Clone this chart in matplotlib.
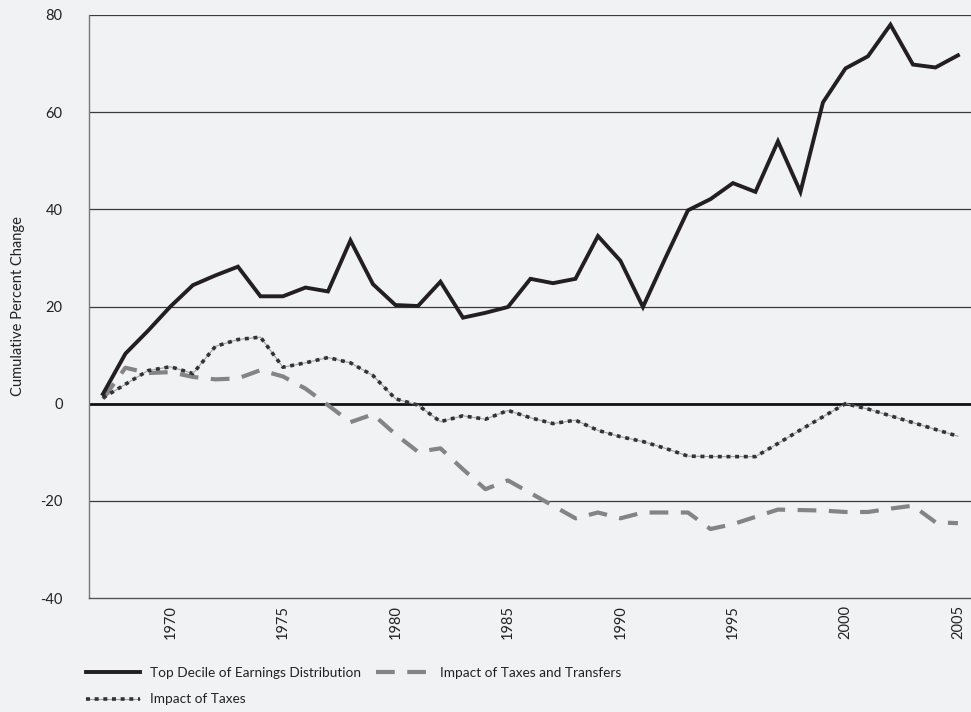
import matplotlib
matplotlib.use('Agg')
import matplotlib.pyplot as plt
from matplotlib.legend_handler import HandlerTuple

plt.rcParams['font.family'] = ['Lato', 'DejaVu Sans']
plt.rcParams['axes.unicode_minus'] = False

# Dados
years = list(range(1967, 2006))
top_decile = [2.0, 10.3, 15.0, 20.0, 24.4, 26.4, 28.2, 22.1, 22.1, 23.9,
              23.1, 33.6, 24.6, 20.3, 20.1, 25.1, 17.7, 18.7, 19.9, 25.7,
              24.8, 25.7, 34.5, 29.4, 19.9, 30.0, 39.8, 42.1, 45.4, 43.6,
              54.0, 43.6, 62.0, 69.0, 71.5, 78.0, 69.8, 69.2, 71.7]
taxes = [1.2, 4.0, 6.8, 7.6, 6.2, 11.8, 13.2, 13.7, 7.5, 8.4,
         9.5, 8.4, 5.8, 1.0, -0.3, -3.7, -2.5, -3.2, -1.4, -2.9,
         -4.1, -3.4, -5.5, -6.8, -7.8, -9.2, -10.8, -10.9, -10.9, -10.9,
         -8.2, -5.4, -2.7, 0.0, -1.1, -2.5, -3.9, -5.3, -6.7]
taxes_transfers = [1.0, 7.4, 6.3, 6.5, 5.5, 5.0, 5.2, 6.9, 5.6, 3.1,
                   -0.3, -3.8, -2.2, -6.3, -9.9, -9.2, -13.5, -17.6, -15.8, -18.4,
                   -21.0, -23.6, -22.4, -23.6, -22.4, -22.4, -22.4, -25.8, -24.8, -23.3,
                   -21.8, -21.9, -22.0, -22.3, -22.3, -21.6, -21.0, -24.4, -24.6]
x_ticks = [1970, 1975, 1980, 1985, 1990, 1995, 2000, 2005]
y_ticks = [-40, -20, 0, 20, 40, 60, 80]

bg = '#f1f2f4'
fig = plt.figure(figsize=(9.71, 7.12), dpi=100, facecolor=bg)
ax = fig.add_axes([89 / 971, 1 - 598 / 712, 1 - 89 / 971, (598 - 15) / 712])
ax.set_facecolor(bg)

# Linhas de grade
for v in y_ticks[1:]:
    if v == 0:
        ax.axhline(v, color='#111111', lw=2.0, zorder=1)
    else:
        ax.axhline(v, color='#3a3a3a', lw=0.9, zorder=1)

l1, = ax.plot(years, top_decile, color='#231f20', lw=2.8, solid_joinstyle='miter', zorder=4)
l2, = ax.plot(years, taxes_transfers, color='#848484', lw=3.0, dashes=(4.5, 3.0), zorder=3)
l3a, = ax.plot(years, taxes, color='#a0a0a0', lw=0.8, zorder=2)
l3b, = ax.plot(years, taxes, color='#333333', lw=2.6, dashes=(1.1, 1.3), zorder=3)

ax.set_xlim(1966.38, 2005.58)
ax.set_ylim(-40, 80)
ax.set_xticks(x_ticks)
ax.set_yticks(y_ticks)
ax.tick_params(axis='both', length=0, labelsize=10.5, colors='#222222')
ax.tick_params(axis='y', pad=19)
ax.tick_params(axis='x', pad=5, labelrotation=90)

for s in ['top', 'right']:
    ax.spines[s].set_visible(False)
ax.spines['left'].set_color('#777777')
ax.spines['bottom'].set_color('#555555')
ax.spines['left'].set_linewidth(1.0)
ax.spines['bottom'].set_linewidth(1.0)

ax.set_ylabel('Cumulative Percent Change', fontsize=10.5, color='#222222', labelpad=11)

fig.legend([l1, (l3a, l3b), l2],
           ['Top Decile of Earnings Distribution', 'Impact of Taxes', 'Impact of Taxes and Transfers'],
           handler_map={tuple: HandlerTuple(ndivide=1, pad=0)},
           loc='upper left', bbox_to_anchor=(86 / 971, 1 - 667 / 712), ncol=2,
           frameon=False, fontsize=9.8, handlelength=4.0, handletextpad=0.7,
           columnspacing=1.1, labelspacing=1.05, borderpad=0, borderaxespad=0,
           labelcolor='#222222')

plt.savefig('out.png', dpi=100, facecolor=bg)
